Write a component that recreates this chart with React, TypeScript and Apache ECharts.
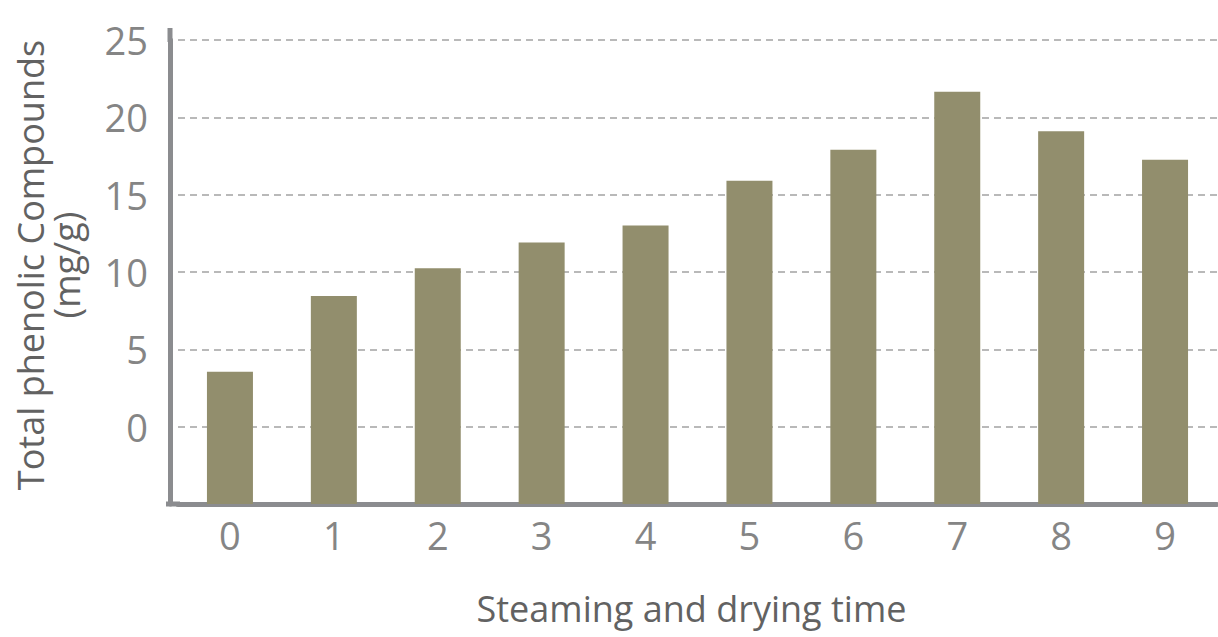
import React, { useEffect, useRef } from "react";
import * as echarts from "echarts";

const categories = ["0", "1", "2", "3", "4", "5", "6", "7", "8", "9"];
const phenolic = [3.55, 8.45, 10.25, 11.9, 13.0, 15.9, 17.9, 21.65, 19.1, 17.25];
const yMin = -5;
const yMax = 25;
const yStep = 5;
const xName = "Steaming and drying time";
const yName = "Total phenolic Compounds\n(mg/g)";

export default function App() {
  const ref = useRef<HTMLDivElement>(null);
  useEffect(() => {
    document.body.style.margin = "0";
    const chart = echarts.init(ref.current!, null, { renderer: "svg" });
    const axisColor = "#8b8c8f";
    chart.setOption({
      animation: false,
      backgroundColor: "#ffffff",
      textStyle: { fontFamily: "Open Sans" },
      grid: { left: 178, right: 1, top: 40, bottom: 133, containLabel: false },
      xAxis: {
        type: "category",
        data: categories,
        boundaryGap: true,
        axisLine: { show: true, onZero: false, lineStyle: { color: axisColor, width: 5 } },
        axisTick: { show: false },
        axisLabel: { color: "#858585", fontSize: 38, margin: 12, fontFamily: "Open Sans" },
        name: xName,
        nameLocation: "middle",
        nameGap: 86,
        nameTextStyle: { color: "#626262", fontSize: 36, padding: [0, 12, 0, 0], fontFamily: "Open Sans" },
      },
      yAxis: {
        type: "value",
        min: yMin,
        max: yMax,
        interval: yStep,
        startValue: yMin,
        offset: 8,
        axisLine: { show: true, lineStyle: { color: axisColor, width: 5 } },
        axisTick: { show: false },
        axisLabel: {
          color: "#858585",
          fontSize: 38,
          margin: 22,
          fontFamily: "Open Sans",
          formatter: (v: number) => (v === yMin ? "" : String(v)),
        },
        splitLine: { show: true, lineStyle: { color: "#a3a3a3", width: 1.5, type: [7, 5] } },
        name: yName,
        nameLocation: "middle",
        nameRotate: 90,
        nameGap: 86,
        nameTextStyle: {
          color: "#626262",
          fontSize: 36,
          lineHeight: 36,
          padding: [0, 0, 0, 14],
          fontFamily: "Open Sans",
        },
      },
      graphic: [
        { type: "rect", shape: { x: 167.5, y: 28, width: 5, height: 14 }, style: { fill: axisColor }, z: 1 },
        { type: "rect", shape: { x: 166, y: 501.5, width: 14, height: 5 }, style: { fill: axisColor }, z: 1 },
      ],
      series: [
        {
          type: "bar",
          data: phenolic,
          barWidth: 46,
          itemStyle: { color: "#928e6d" },
        },
      ],
    });
    return () => chart.dispose();
  }, []);
  return <div ref={ref} style={{ width: 1218, height: 637 }} />;
}
